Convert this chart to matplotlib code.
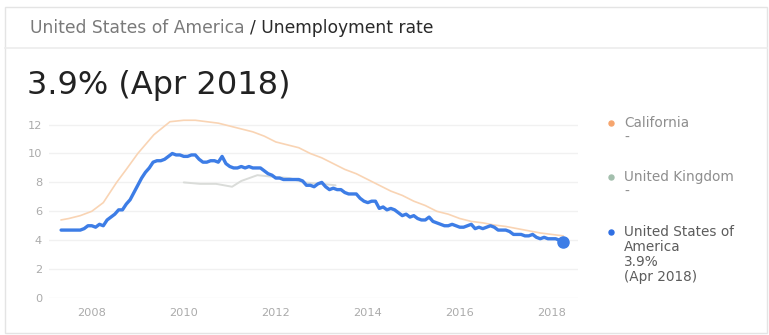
#!/usr/bin/env python3
"""
Unemployment rate card - United States of America vs California / United Kingdom
"""

import numpy as np
import matplotlib.pyplot as plt
from matplotlib.patches import Rectangle
from matplotlib.lines import Line2D

plt.rcParams['font.family'] = ['DejaVu Sans']

# US monthly rate, May 2007 .. Apr 2018
us_start = (2007, 5)
us_rate = [
    4.7, 4.7, 4.7, 4.7, 4.7, 4.7, 4.8, 5.0,
    5.0, 4.9, 5.1, 5.0, 5.4, 5.6, 5.8, 6.1, 6.1, 6.5, 6.8, 7.3,
    7.8, 8.3, 8.7, 9.0, 9.4, 9.5, 9.5, 9.6, 9.8, 10.0, 9.9, 9.9,
    9.8, 9.8, 9.9, 9.9, 9.6, 9.4, 9.4, 9.5, 9.5, 9.4, 9.8, 9.3,
    9.1, 9.0, 9.0, 9.1, 9.0, 9.1, 9.0, 9.0, 9.0, 8.8, 8.6, 8.5,
    8.3, 8.3, 8.2, 8.2, 8.2, 8.2, 8.2, 8.1, 7.8, 7.8, 7.7, 7.9,
    8.0, 7.7, 7.5, 7.6, 7.5, 7.5, 7.3, 7.2, 7.2, 7.2, 6.9, 6.7,
    6.6, 6.7, 6.7, 6.2, 6.3, 6.1, 6.2, 6.1, 5.9, 5.7, 5.8, 5.6,
    5.7, 5.5, 5.4, 5.4, 5.6, 5.3, 5.2, 5.1, 5.0, 5.0, 5.1, 5.0,
    4.9, 4.9, 5.0, 5.1, 4.8, 4.9, 4.8, 4.9, 5.0, 4.9, 4.7, 4.7,
    4.7, 4.6, 4.4, 4.4, 4.4, 4.3, 4.3, 4.4, 4.2, 4.1, 4.2, 4.1,
    4.1, 4.1, 4.0, 3.9,
]

# California
ca_year = [2007.33, 2007.5, 2007.75, 2008.0, 2008.25, 2008.54, 2008.75,
           2009.0, 2009.35, 2009.7, 2010.0, 2010.25, 2010.5, 2010.75,
           2011.0, 2011.25, 2011.5, 2011.75, 2012.0, 2012.25, 2012.5,
           2012.75, 2013.0, 2013.25, 2013.5, 2013.75, 2014.0, 2014.25,
           2014.5, 2014.75, 2015.0, 2015.25, 2015.5, 2015.75, 2016.0,
           2016.25, 2016.5, 2016.75, 2017.0, 2017.25, 2017.5, 2017.75,
           2018.0, 2018.25]
ca_rate = [5.4, 5.5, 5.7, 6.0, 6.6, 8.0, 8.9,
           10.0, 11.3, 12.2, 12.3, 12.3, 12.2, 12.1,
           11.9, 11.7, 11.5, 11.2, 10.8, 10.6, 10.4,
           10.0, 9.7, 9.3, 8.9, 8.6, 8.2, 7.8,
           7.4, 7.1, 6.7, 6.4, 6.0, 5.8, 5.5,
           5.3, 5.2, 5.05, 4.95, 4.8, 4.65, 4.5,
           4.4, 4.3]

# United Kingdom, only a short stretch is drawn
uk_year = [2010.0, 2010.35, 2010.7, 2011.05, 2011.25, 2011.6, 2011.9,
           2012.3, 2012.6, 2013.0, 2013.3]
uk_rate = [8.0, 7.9, 7.9, 7.7, 8.1, 8.5, 8.4, 8.3, 8.0, 7.9, 7.8]

x_ticks = [2008, 2010, 2012, 2014, 2016, 2018]
y_ticks = [0, 2, 4, 6, 8, 10, 12]

BLUE = '#3d7de6'
ORANGE = '#f9d4b4'
UK_GREY = '#dadcd9'

W, H = 769, 335
fig = plt.figure(figsize=(W / 100, H / 100), dpi=100)
fig.patch.set_facecolor('white')

# card frame and header separator
fig.add_artist(Rectangle((5 / W, 2 / H), 762 / W, 326 / H, transform=fig.transFigure,
                         facecolor='none', edgecolor='#e4e4e4', lw=1.0))
fig.add_artist(Line2D([5 / W, 767 / W], [1 - 48 / H, 1 - 48 / H],
                      transform=fig.transFigure, color='#ececec', lw=1.2))

# header: grey country, dark indicator
crumb = fig.text(30 / W, 1 - 28 / H, 'United States of America', fontsize=12.3,
                 color='#7a7a7a', va='center', ha='left')
fig.canvas.draw()
bb = crumb.get_window_extent()
fig.text((bb.x1 + 5) / W, 1 - 28 / H, '/ Unemployment rate', fontsize=12.3,
         color='#2a2a2a', va='center', ha='left')
fig.text(27 / W, 1 - 85 / H, '3.9% (Apr 2018)', fontsize=23,
         color='#222222', va='center', ha='left')

# plot area: value 0 at y=298px, 14.45px per unit
ax = fig.add_axes([49 / W, (H - 298) / H, 529 / W, (12.5 * 14.45) / H])
ax.set_xlim(2007.07, 2018.57)
ax.set_ylim(0, 12.5)

months = us_start[0] + (us_start[1] - 1 + np.arange(len(us_rate))) / 12
ax.plot(ca_year, ca_rate, color=ORANGE, lw=1.2, solid_capstyle='round', zorder=2)
ax.plot(uk_year, uk_rate, color=UK_GREY, lw=1.4, solid_capstyle='round', zorder=2)
ax.plot(months, us_rate, color=BLUE, lw=2.4, solid_joinstyle='round',
        solid_capstyle='round', zorder=3)
ax.plot(months[-1], us_rate[-1], 'o', color=BLUE, ms=8, zorder=4)

for s in ax.spines.values():
    s.set_visible(False)
ax.set_yticks(y_ticks)
ax.set_xticks(x_ticks)
ax.set_xticklabels([str(x) for x in x_ticks])
ax.tick_params(axis='both', length=0, labelsize=8.2, labelcolor='#ababab')
ax.tick_params(axis='x', pad=7)
ax.tick_params(axis='y', pad=5)
ax.grid(axis='y', color='#f1f1f1', lw=1.0)
ax.set_axisbelow(True)

# legend on the right
leg_x = 624 / W
dot_x = 611 / W
entries = [
    (123, '#f6a56e', ['California', '-'], '#8e8e8e'),
    (177, '#a3bfad', ['United Kingdom', '-'], '#8e8e8e'),
    (232, '#2f6fe3', ['United States of', 'America', '3.9%', '(Apr 2018)'], '#5c5c5c'),
]
for y0, dot_col, lines, txt_col in entries:
    fig.add_artist(Line2D([dot_x], [1 - y0 / H], marker='o', ms=3.6, color=dot_col,
                          transform=fig.transFigure, lw=0))
    for i, line in enumerate(lines):
        fig.text(leg_x, 1 - (y0 + i * 15) / H, line, fontsize=9.8,
                 color=txt_col, va='center', ha='left')

fig.savefig('out.png', dpi=100, facecolor='white')
